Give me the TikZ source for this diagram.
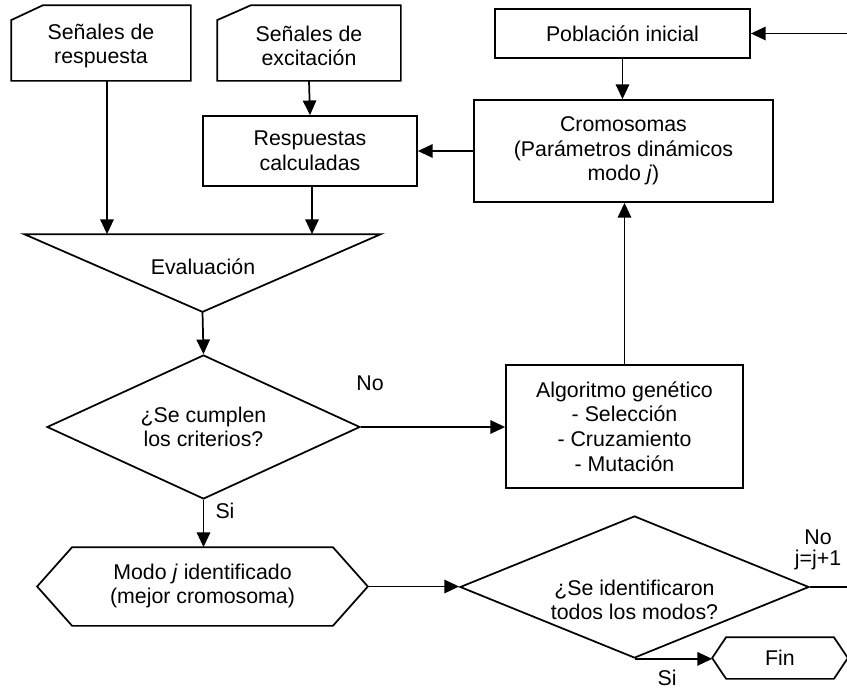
\documentclass[tikz,border=0pt]{standalone}
\usepackage{fontspec}
\setmainfont{Liberation Sans}
\usetikzlibrary{shapes.geometric,arrows.meta,calc}
\newcommand\fsz{\fontsize{16pt}{18.5pt}\selectfont}
\begin{document}
\begin{tikzpicture}[x=0.75pt,y=-0.75pt,
  line width=1.3pt,
  base/.style={align=center, font=\fsz, inner sep=0pt},
  box/.style={base, draw, rectangle, line width=1.3pt},
  ghost/.style={base, rectangle, draw=none},
  dec/.style={base, draw, diamond, line width=1.3pt},
  lbl/.style={base},
  arr/.style={-{Triangle[length=11pt,width=10pt]}, line width=1.3pt},
  outline/.style={draw, line width=1.3pt, line join=miter}
]
\useasboundingbox (0,0) rectangle (847,690);

% input cards
\node[ghost, minimum width=133.5pt, minimum height=55.5pt] (sr) at (101,43) {};
\draw[outline] ([yshift=-11.25pt]sr.north west) -- ([xshift=24pt]sr.north west) -- (sr.north east) -- (sr.south east) -- (sr.south west) -- cycle;
\node[lbl] (srt) at (101,46) {Señales de\\respuesta};

\node[ghost, minimum width=136.5pt, minimum height=55.5pt] (se) at (309,43) {};
\draw[outline] ([yshift=-11.25pt]se.north west) -- ([xshift=25.5pt]se.north west) -- (se.north east) -- (se.south east) -- (se.south west) -- cycle;
\node[lbl] (set) at (309,46) {Señales de\\excitación};

% boxes
\node[box, minimum width=160.5pt, minimum height=52.5pt] (rc) at (310,151) {Respuestas\\calculadas};
\node[box, minimum width=191.25pt, minimum height=36.75pt] (pi) at (622.5,33.5) {Población inicial};
\node[box, minimum width=224.25pt, minimum height=76.5pt] (cr) at (623.5,151) {Cromosomas\\(Parámetros dinámicos\\modo \textit{j})};
\node[box, minimum width=177.75pt, minimum height=92.25pt] (ag) at (624.5,426.5) {Algoritmo genético\\- Selección\\- Cruzamiento\\- Mutación};

% evaluation triangle
\node[ghost, minimum width=266.25pt, minimum height=57pt] (ev) at (202.5,273) {};
\draw[outline] (ev.north west) -- (ev.north east) -- (ev.south) -- cycle;
\node[lbl] (evt) at (203,267) {Evaluación};

% decision 1
\node[dec, minimum width=234.75pt, minimum height=108pt, aspect=2.17] (d1) at (203.5,427) {¿Se cumplen\\los criterios?};

% hexagon mode identified
\node[ghost, minimum width=246.75pt, minimum height=57.75pt] (hx) at (202.5,586.5) {};
\draw[outline] (hx.west) -- ([xshift=26.25pt]hx.north west) -- ([xshift=-26.25pt]hx.north east) -- (hx.east) -- ([xshift=-26.25pt]hx.south east) -- ([xshift=26.25pt]hx.south west) -- cycle;
\node[lbl] (hxt) at (202.5,586) {Modo \textit{j} identificado\\(mejor cromosoma)};

% decision 2
\node[dec, minimum width=261.75pt, minimum height=106.5pt, aspect=2.46] (d2) at (634.5,587) {};
\node[lbl] (d2t) at (634.5,600) {¿Se identificaron\\todos los modos?};

% Fin hexagon
\node[ghost, minimum width=100.5pt, minimum height=30pt] (fin) at (780,658) {};
\draw[outline] (fin.west) -- ([xshift=10.5pt]fin.north west) -- ([xshift=-10.5pt]fin.north east) -- (fin.east) -- ([xshift=-10.5pt]fin.south east) -- ([xshift=10.5pt]fin.south west) -- cycle;
\node[lbl] (fint) at (780,658) {Fin};

% labels
\node[lbl] (no1) at (370,383) {No};
\node[lbl] (si1) at (225,511) {Si};
\node[lbl] (no2) at (818,537) {No};
\node[lbl] (jj) at (818,560) {j=j+1};
\node[lbl] (si2) at (667,678) {Si};

% loop coordinate (outside the visible frame)
\coordinate (loop) at (850,300);

% connectors
\draw[arr] (se.south) -- (rc.north);
\draw[arr] ([xshift=4.5pt]sr.south) -- ([xshift=4.5pt]sr.south |- ev.north);
\draw[arr] ([xshift=1.5pt]rc.south) -- ([xshift=1.5pt]rc.south |- ev.north);
\draw[arr] (ev.south) -- (d1.north);
\draw[arr] (d1.east) -- (d1.east -| ag.west);
\draw[arr] (ag.north) -- (ag.north |- cr.south);
\draw[arr] (pi.south) -- (pi.south |- cr.north);
\draw[arr] (cr.west) -- (cr.west -| rc.east);
\draw[arr] (d1.south) -- (d1.south |- hx.north);
\draw[arr] (hx.east) -- (hx.east -| d2.west);
\draw[arr] (d2.east) -| (loop) |- (pi.east);
\draw[arr] (d2.south) -- (d2.south -| fin.west);
\end{tikzpicture}
\end{document}
